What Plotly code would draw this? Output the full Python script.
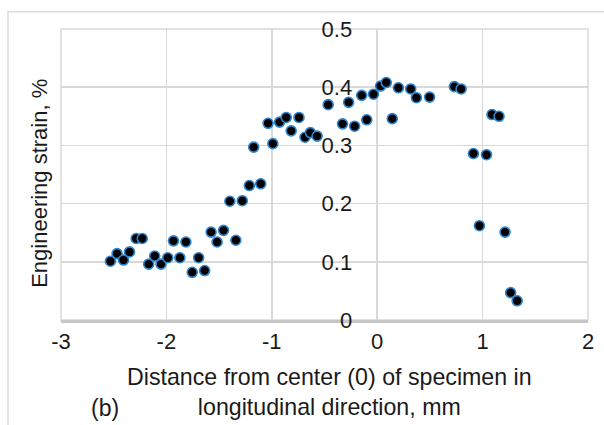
import plotly.graph_objects as go

distance_mm = [-2.531, -2.468, -2.407, -2.350, -2.287, -2.229, -2.168, -2.111, -2.051, -1.987,
               -1.933, -1.872, -1.815, -1.755, -1.694, -1.637, -1.576, -1.519, -1.458, -1.398,
               -1.341, -1.280, -1.213, -1.172, -1.105, -1.035, -0.990, -0.926, -0.863, -0.816,
               -0.742, -0.685, -0.634, -0.570, -0.465, -0.329, -0.271, -0.214, -0.147, -0.099,
               -0.035, 0.032, 0.086, 0.143, 0.201, 0.318, 0.372, 0.497, 0.732, 0.796,
               0.913, 0.970, 1.037, 1.089, 1.156, 1.213, 1.266, 1.328]
strain_pct = [0.101, 0.114, 0.103, 0.117, 0.140, 0.140, 0.096, 0.110, 0.096, 0.107,
              0.136, 0.107, 0.134, 0.082, 0.107, 0.085, 0.151, 0.134, 0.154, 0.204,
              0.137, 0.205, 0.231, 0.297, 0.234, 0.338, 0.303, 0.340, 0.348, 0.325,
              0.348, 0.314, 0.322, 0.316, 0.370, 0.337, 0.374, 0.333, 0.386, 0.344,
              0.388, 0.402, 0.408, 0.346, 0.399, 0.397, 0.382, 0.383, 0.401, 0.397,
              0.286, 0.162, 0.284, 0.353, 0.350, 0.151, 0.047, 0.033]

x_tick_vals = [-3, -2, -1, 0, 1, 2]
x_tick_text = ["-3", "-2", "-1", "0", "1", "2"]
y_tick_vals = [0, 0.1, 0.2, 0.3, 0.4, 0.5]
y_tick_text = ["0", "0.1", "0.2", "0.3", "0.4", "0.5"]

FONT = "Liberation Sans, Arial, sans-serif"
TXT = "#1a1a1a"
GRID = "#d9d9d9"

fig = go.Figure()
fig.add_trace(go.Scatter(
    x=distance_mm, y=strain_pct, mode="markers",
    marker=dict(size=10, color="black", line=dict(color="#2f86d0", width=1.6)),
    showlegend=False, cliponaxis=False, hoverinfo="skip",
))

fig.update_layout(
    width=604, height=425,
    margin=dict(l=61, r=16, t=29, b=105, autoexpand=False),
    paper_bgcolor="white", plot_bgcolor="white",
    font=dict(family=FONT, color=TXT, size=22),
    xaxis=dict(range=[-3, 2], tickvals=x_tick_vals, ticktext=x_tick_text,
               showgrid=True, gridcolor=GRID, gridwidth=1.5, zeroline=False,
               showline=True, linecolor="#c6c6c6", linewidth=2.5,
               ticks="", tickfont=dict(size=22, color=TXT), automargin=False,
               fixedrange=True),
    yaxis=dict(range=[0, 0.5], tickvals=y_tick_vals, ticktext=y_tick_text,
               anchor="free", position=0.6,
               showgrid=True, gridcolor=GRID, gridwidth=1.5, zeroline=False,
               showline=False, ticks="", tickfont=dict(size=22, color=TXT),
               ticklabelstandoff=25, automargin=False, fixedrange=True),
    shapes=[
        dict(type="rect", xref="paper", yref="paper", x0=0, x1=1, y0=0, y1=1,
             line=dict(color=GRID, width=1.5), layer="below"),
        dict(type="rect", xref="paper", yref="paper", x0=-0.1006, x1=1.1, y0=-0.5, y1=1.0595,
             line=dict(color="#dcdcdc", width=1.5), layer="below"),
    ],
    annotations=[
        dict(text="Engineering strain, %", xref="paper", yref="paper",
             x=-0.040, y=0.471, textangle=-90, showarrow=False,
             font=dict(size=22, color=TXT), xanchor="center", yanchor="middle"),
        dict(text="Distance from center (0) of specimen in<br>longitudinal direction, mm",
             xref="paper", yref="paper", x=0.510, y=-0.249, showarrow=False,
             font=dict(size=23.2, color=TXT), xanchor="center", yanchor="middle"),
        dict(text="(b)", xref="paper", yref="paper", x=0.0835, y=-0.302,
             showarrow=False, font=dict(size=23, color=TXT),
             xanchor="center", yanchor="middle"),
    ],
)

fig.write_html("out.html", config={"displayModeBar": False, "staticPlot": True},
               post_script="document.body.style.margin='0';document.body.style.overflow='hidden';")
